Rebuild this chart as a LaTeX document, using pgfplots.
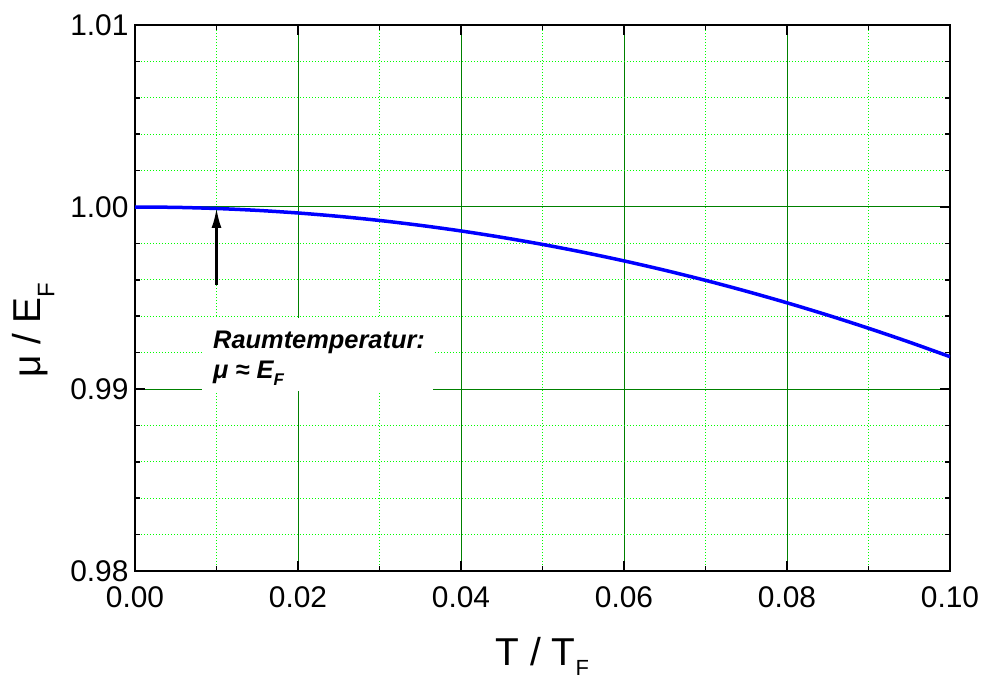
\documentclass[border=0pt]{standalone}
\usepackage{fontspec}
\setmainfont{Liberation Sans}
\usepackage{pgfplots}
\pgfplotsset{compat=1.18}
\usetikzlibrary{arrows.meta}
\definecolor{majgrid}{RGB}{0,128,0}
\definecolor{mingrid}{RGB}{0,255,0}
\definecolor{curveblue}{RGB}{0,0,255}
\begin{document}
\begin{tikzpicture}
\useasboundingbox (-135bp,-109bp) rectangle (848bp,571bp);
\begin{axis}[
  at={(0,0)}, anchor=south west,
  scale only axis,
  width=815bp, height=546bp,
  xmin=0, xmax=0.1, ymin=0.98, ymax=1.01,
  xtick={0,0.02,0.04,0.06,0.08,0.1}, ytick={0.98,0.99,1.00,1.01},
  minor xtick={0.01,0.03,0.05,0.07,0.09},
  minor ytick={0.982,0.984,0.986,0.988,0.992,0.994,0.996,0.998,1.002,1.004,1.006,1.008},
  grid=both,
  major grid style={majgrid, line width=1bp},
  minor grid style={mingrid, dash pattern=on 1.5bp off 1.5bp, line width=1.2bp},
  tick align=inside,
  major tick length=10bp, minor tick length=5bp,
  tick style={black, line width=1.6bp},
  axis line style={black, line width=1.8bp},
  scaled ticks=false,
  tick label style={/pgf/number format/fixed, /pgf/number format/fixed zerofill, /pgf/number format/precision=2, font=\fontsize{30}{32}\selectfont},
  /pgf/number format/assume math mode=true,
  x tick label style={anchor=base, yshift=-36bp},
  y tick label style={xshift=-3bp},
  xlabel={T / T\raisebox{-0.27em}{\fontsize{22}{24}\selectfont F}},
  ylabel={μ / E\raisebox{-0.35em}{\fontsize{24}{26}\selectfont F}},
  label style={font=\fontsize{39}{42}\selectfont},
  xlabel style={at={(axis description cs:0.5,-0.1722)}, anchor=base},
  ylabel style={at={(axis description cs:-0.1245,0.441)}, anchor=center},
]
\addplot[curveblue, line width=3.5bp, smooth] coordinates {
(0,1.0) (0.005,0.99998) (0.01,0.999918) (0.015,0.999815) (0.02,0.999671)
(0.025,0.999486) (0.03,0.99926) (0.035,0.998992) (0.04,0.998684)
(0.045,0.998334) (0.05,0.997944) (0.055,0.997512) (0.06,0.997039)
(0.065,0.996525) (0.07,0.99597) (0.075,0.995373) (0.08,0.994736)
(0.085,0.994058) (0.09,0.993338) (0.095,0.992577) (0.1,0.991775)
};
\fill[white] (axis cs:0.0082,0.9899) rectangle (axis cs:0.0366,0.9939);
\node[anchor=base west, inner sep=0pt, font=\fontsize{25.5}{30}\selectfont\bfseries\itshape]
  at (axis cs:0.00957,0.99225) {Raumtemperatur:};
\node[anchor=base west, inner sep=0pt, font=\fontsize{25.5}{30}\selectfont\bfseries\itshape]
  at (axis cs:0.00957,0.99060) {μ ≈ E\raisebox{-0.3em}{\fontsize{17}{18}\selectfont F}};
\draw[-{Latex[length=20bp,width=10bp]}, line width=2.6bp] (axis cs:0.01,0.99571) -- (axis cs:0.01,0.99995);
\end{axis}
\end{tikzpicture}
\end{document}
